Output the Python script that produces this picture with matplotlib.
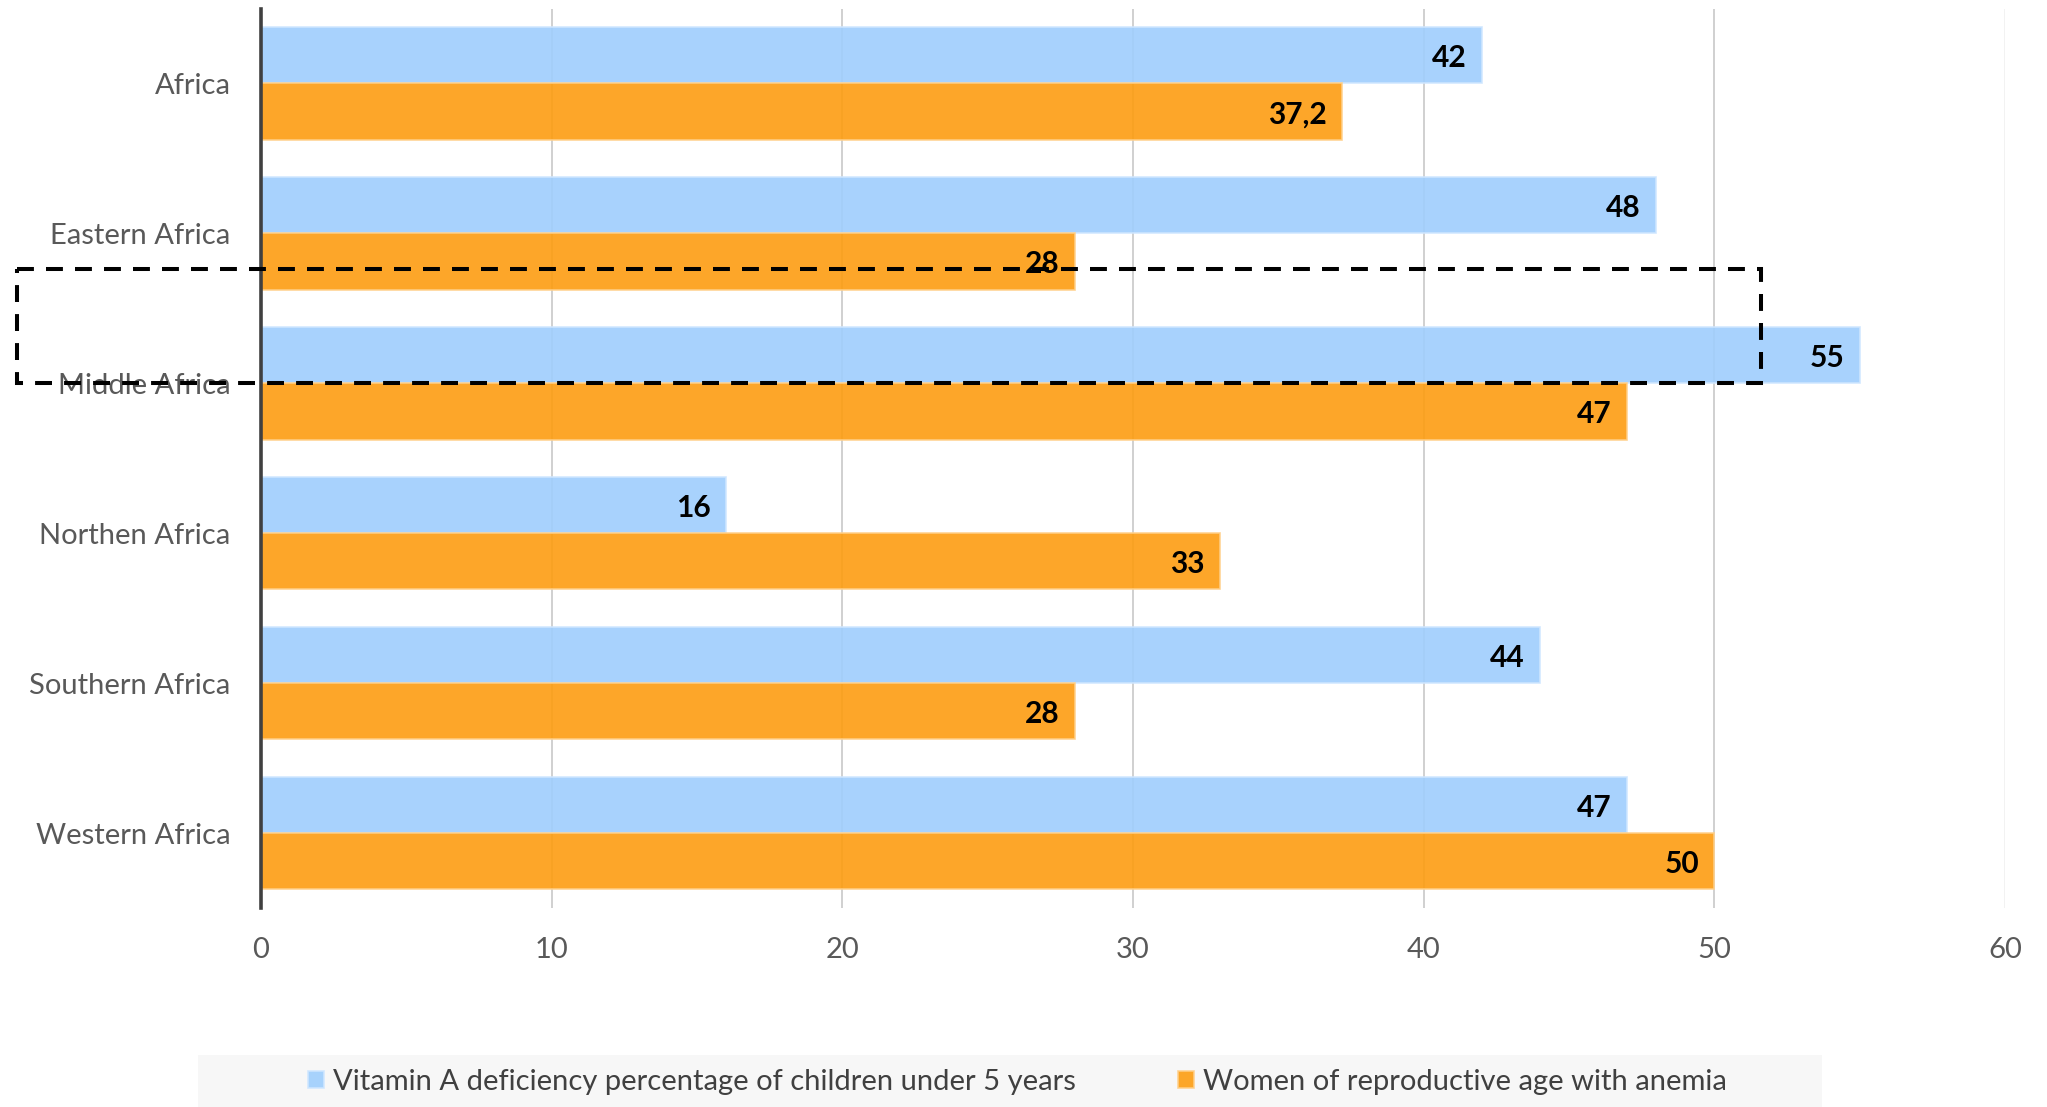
import matplotlib
matplotlib.use("Agg")
import matplotlib.pyplot as plt
from matplotlib.patches import Rectangle
import numpy as np

regions = ["Africa", "Eastern Africa", "Middle Africa", "Northen Africa",
           "Southern Africa", "Western Africa"]
vitamin_a = [42, 48, 55, 16, 44, 47]
anemia = [37.2, 28, 47, 33, 28, 50]
vitamin_labels = ["42", "48", "55", "16", "44", "47"]
anemia_labels = ["37,2", "28", "47", "33", "28", "50"]
series_names = ["Vitamin A deficiency percentage of children under 5 years",
                "Women of reproductive age with anemia"]
x_ticks = [0, 10, 20, 30, 40, 50, 60]

plt.rcParams['font.family'] = ['Lato', 'DejaVu Sans']

fig = plt.figure(figsize=(20.47, 11.07), dpi=100)
ax = fig.add_axes([0.1275, 0.1798, 0.852, 0.8125])

y = np.arange(len(regions))
h = 0.375
blue = "#9fcefd"
orange = "#fd9d11"

b1 = ax.barh(y - h / 2, vitamin_a, height=h, color=blue, alpha=0.9,
             edgecolor="#cfe6ff", linewidth=1.2, zorder=2,
             label=series_names[0])
b2 = ax.barh(y + h / 2, anemia, height=h, color=orange, alpha=0.9,
             edgecolor="#ffd08a", linewidth=1.2, zorder=2,
             label=series_names[1])

for bars, labels in ((b1, vitamin_labels), (b2, anemia_labels)):
    for bar, lab in zip(bars, labels):
        ax.annotate(lab, (bar.get_width(), bar.get_y() + bar.get_height() / 2),
                    xytext=(-11, -2), textcoords="offset points",
                    ha="right", va="center", fontsize=21.5, fontweight="bold",
                    color="black", zorder=4)

ax.set_xlim(0, 60)
ax.set_ylim(len(regions) - 0.5, -0.5)
ax.set_xticks(x_ticks)
ax.set_xticklabels([str(t) for t in x_ticks])
ax.set_yticks(y)
ax.set_yticklabels(regions)
ax.tick_params(axis="both", length=0, labelsize=21, labelcolor="#595959")
ax.tick_params(axis="x", pad=21)
ax.tick_params(axis="y", pad=22)

for t in x_ticks[1:-1]:
    ax.axvline(t, color="#c8c8c8", linewidth=1.2, zorder=1)
ax.axvline(60, color="#f0f0f0", linewidth=1.2, zorder=1)

for s in ("top", "right", "bottom"):
    ax.spines[s].set_visible(False)
ax.spines["left"].set_color("#404040")
ax.spines["left"].set_linewidth(2.6)
ax.spines["left"].set_zorder(3)

# Highlight frame around the Middle Africa row
frame = Rectangle((-8.4, 1.24), 51.6 + 8.4, 2.0 - 1.24, fill=False,
                  edgecolor="black", linewidth=2.9, linestyle=(0, (4.2, 3.0)),
                  clip_on=False, zorder=5)
ax.add_patch(frame)

# Legend strip with a light background
fig.patches.append(Rectangle((0.0967, 0.0), 0.7934, 0.047,
                             transform=fig.transFigure, facecolor="#f7f7f7",
                             edgecolor="none", zorder=0))
leg = fig.legend(handles=[b1, b2], labels=series_names, loc="center",
                 bbox_to_anchor=(0.497, 0.0226), ncol=2, frameon=False,
                 fontsize=21, handlelength=0.55, handleheight=0.55,
                 handletextpad=0.3, columnspacing=3.5, borderpad=0.0,
                 labelcolor="#404040")

fig.savefig("out.png", dpi=100)
